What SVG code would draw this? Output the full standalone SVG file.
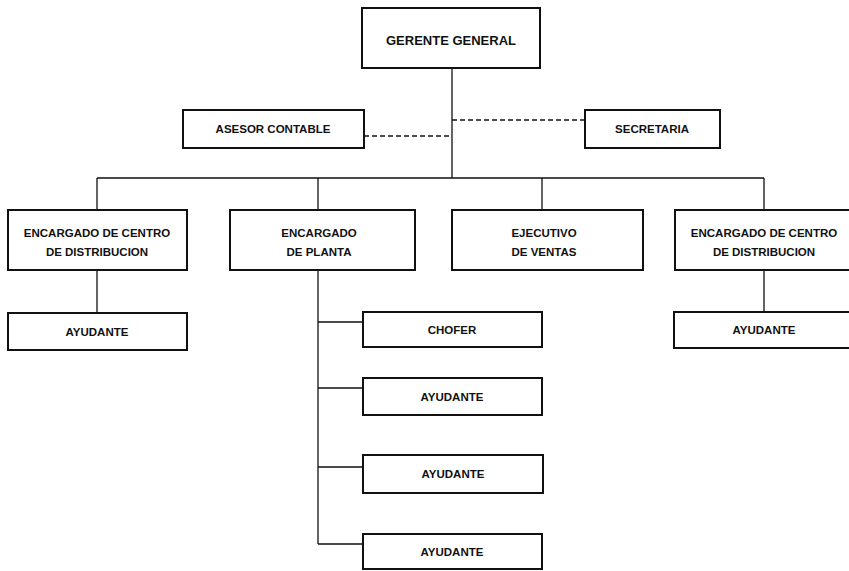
<svg xmlns="http://www.w3.org/2000/svg" width="849" height="571" viewBox="0 0 849 571">
<style>
.box{fill:#fff;stroke:#111;stroke-width:2}
.t{font-family:"Liberation Sans",Arial,sans-serif;font-weight:bold;font-size:11.5px;fill:#111;text-anchor:middle;dominant-baseline:central}
.big{font-size:13px}
.ln{fill:none;stroke:#111;stroke-width:1.3}
.dash{stroke-dasharray:5 3}
</style>
<rect width="849" height="571" fill="#fff"/>
<g id="connectors">
<path class="ln" d="M452 68V178M97 178H764M97 178V210M318 178V210M542 178V210M764 178V210"/>
<path class="ln dash" d="M364 136H452M452 120H585"/>
<path class="ln" d="M97 270V313M764 270V312M318 270V544M318 322H363M318 388H363M318 467H363M318 544H363"/>
</g>
<g id="gerente"><rect class="box" x="362" y="8" width="178" height="60"/><text class="t big" x="451" y="40">GERENTE GENERAL</text></g>
<g id="asesor"><rect class="box" x="183" y="110" width="181" height="38"/><text class="t" x="273" y="129">ASESOR CONTABLE</text></g>
<g id="secretaria"><rect class="box" x="585" y="110" width="135" height="38"/><text class="t" x="652" y="129">SECRETARIA</text></g>
<g id="centro1"><rect class="box" x="8" y="210" width="179" height="60"/><text class="t" x="97" y="233">ENCARGADO DE CENTRO</text><text class="t" x="97" y="252">DE DISTRIBUCION</text></g>
<g id="planta"><rect class="box" x="230" y="210" width="185" height="60"/><text class="t" x="319" y="233">ENCARGADO</text><text class="t" x="319" y="252">DE PLANTA</text></g>
<g id="ventas"><rect class="box" x="452" y="210" width="191" height="60"/><text class="t" x="544" y="233">EJECUTIVO</text><text class="t" x="544" y="252">DE VENTAS</text></g>
<g id="centro2"><rect class="box" x="675" y="210" width="178" height="60"/><text class="t" x="764" y="233">ENCARGADO DE CENTRO</text><text class="t" x="764" y="252">DE DISTRIBUCION</text></g>
<g id="ayudante1"><rect class="box" x="8" y="313" width="179" height="37"/><text class="t" x="97" y="332">AYUDANTE</text></g>
<g id="ayudante-der"><rect class="box" x="674" y="312" width="179" height="36"/><text class="t" x="764" y="330">AYUDANTE</text></g>
<g id="chofer"><rect class="box" x="363" y="312" width="179" height="35"/><text class="t" x="452" y="330">CHOFER</text></g>
<g id="ayudante2"><rect class="box" x="363" y="378" width="179" height="37"/><text class="t" x="452" y="397">AYUDANTE</text></g>
<g id="ayudante3"><rect class="box" x="363" y="455" width="180" height="38"/><text class="t" x="453" y="474">AYUDANTE</text></g>
<g id="ayudante4"><rect class="box" x="363" y="534" width="179" height="35"/><text class="t" x="452" y="552">AYUDANTE</text></g>
</svg>
